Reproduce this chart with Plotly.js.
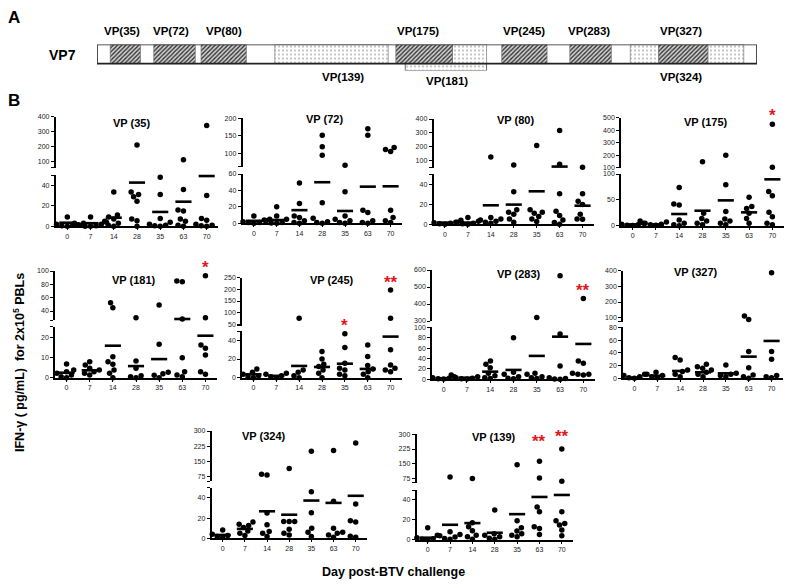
<!DOCTYPE html>
<html><head><meta charset="utf-8">
<script src="https://cdn.plot.ly/plotly-3.0.1.min.js"></script>
<style>html,body{margin:0;padding:0;background:#fff}#chart{width:785px;height:585px}</style>
</head><body><div id="chart"></div>
<script>
// ---------- DATA ----------
const days = ['0','7','14','28','35','63','70'];

// Panel A: VP7 map (residue units, VP7 = 349 aa)
const vp7Length = 349;
const hatchStart = [7, 30, 55, 158, 214, 250, 297];
const hatchEnd   = [23, 52, 79, 188, 238, 272, 323];
const dotStart = [94, 188, 282, 323];
const dotEnd   = [154, 206, 297, 342];
const vp181Under = [163, 206];
const pepNames = ['VP(35)','VP(72)','VP(80)','VP(175)','VP(245)','VP(283)','VP(327)','VP(139)','VP(181)','VP(324)'];
const pepLabelPos = [13, 39, 67, 170, 226, 260, 309, 130, 185, 309];
const pepLabelRow = ['top','top','top','top','top','top','top','bottom','bottom2','bottom'];

// Panel B: IFN-gamma values per day group (0,7,14,28,35,63,70)
const vp35Values = [[9,4.5,3,2,1.5,1,0.5,0],[9,4,3,2,1,0.5,0,0],[33.5,11,9,7,5,3,1,0],[210,33.5,31,28.7,24.5,7,5.5,0],[47.7,31,7.7,4,2,1,0.5,0],[111,35.8,15.8,15,7,5,1,0],[340,30,7.7,6,2,1,0.5,0]];
const vp35Means = [3.5,3,8.4,42.6,14,24,49];
const vp72Values = [[9,5,4,2,1,1,0],[20,9,5,3,1,0.5,0],[49,24,9,7,3,1,0],[152,119,95,25,6,2,1,0],[66,38.5,9,5,3,1,0],[170,152,16,13,3,1,0],[117,111,105,16,7,3,1]];
const vp72Means = [3,4,16,50,15,44.6,45];
const vp80Values = [[4,3.4,2,1.5,1,0.5,0],[6.8,3,2,1,0.5,0],[128,6.8,5.4,4.4,3,2,1],[71,32.5,14.6,12,10,5.4,2],[210,14.6,12,11,7.8,5.4,2.7],[317,76,30.5,13,8.8,4.4,1.7,0],[55,30.5,23,19.7,10,5.4,5]];
const vp80Means = [1.7,1.7,19,19.7,33,60,18.6];
const vp175Values = [[6,4.5,3,2,1,0.5],[9,7,4.5,3,2,1],[74,42,40,11,4.5,2,0],[147,24,14,9,4.5,2],[200,79,27.7,13,9,4.5,2],[54.8,37,33.5,24,14,4.5],[447,103,66,58,25.8,17.4,4.5,2]];
const vp175Means = [2.5,2.6,22.6,29,49,25.8,89.7];
const vp181Values = [[6.8,3.8,3,2.2,1.3,0.5,0],[8,6.3,4.7,3.8,3,2.2,1.3],[52.5,45,10.5,8,6.7,3.8,2.2,0],[30,8.3,4.7,1,0.5,0],[49,16.7,2.7,2,1.2,0],[85,84,28,10,3,1.3,0.5],[93,30,16.3,14.7,11.3,3,1.7]];
const vp181Means = [2.5,3.7,16,5.8,9.3,28,21];
const vp245Values = [[9.4,5.8,3.6,2,1,0],[4.7,3.6,2,1,0],[75.7,8.3,5.8,2,0],[28,20,14.4,12,8.3,4.7,0],[47,32.4,15.5,10,8.3,3.6,2],[35,22.7,13,9.4,6.5,3.6,0],[197,75.7,30,13.7,10,8.3,6.5]];
const vp245Means = [3.6,2,12.6,11.5,15,9.4,44];
const vp283Values = [[7,5,3,2,1,0.5],[8.3,5,3,2,1,0.5],[35,29,22.4,11.5,7,3,1.5],[80,13.5,9.6,5,2,1],[320,11.5,9.6,5,3,1.5],[566,87,25.6,3,1.5,0.5,0],[433,35,30.8,11.5,9.6,9.6,8.3]];
const vp283Means = [2,3,14.7,18,45,82,68];
const vp327Values = [[6.3,4.2,2.6,1,0],[9.4,6.3,4.2,2.6,1],[32.5,28.8,13,10.5,6.3,2.6],[22,18.3,15.7,13,9.4,6.3,2.6],[21,7.8,6.3,4.2,2.6],[111,89,42,16.7,5.2,2.6,0],[387,42,30,4.2,2.6,1]];
const vp327Means = [1,4,11.5,9.4,7.8,34,58.6];
const vp324Values = [[8.3,4,2.7,1.7,0.7],[16,14,12.7,10.7,7.3,5,2.7],[88,85,25,13.3,6.7,5,1.7],[117,16.7,16.7,16.7,9,5,3.3],[201,46,25.3,10,6,1.7],[205,36.7,10,6,5,3.3,1],[241,34,17.3,16,2,1]];
const vp324Means = [3.3,9.3,26.7,23.3,37.3,35,42];
const vp139Values = [[12,4.5,2,1,0.5,0],[82,8,5.3,4,2.7,1.3,0.5],[75,17,13,9,4.5,3,0.5],[30,6,4.5,3,1.5,0.5],[145,19,12,8.7,6,4.5,3],[162,77,33,28,13,11.3,5.3],[225,60,28,19,16.3,14.7,9.7,4]];
const vp139Means = [2,15,16.7,7,25.7,43,45];

// axis tick labels [upper, lower]
const vp35Ticks = [[100,200,300,400],[0,20,40]];
const vp72Ticks = [[100,150,200],[0,20,40,60]];
const vp80Ticks = [[100,200,300,400],[0,20,40]];
const vp175Ticks = [[100,200,300,400,500],[0,50,100]];
const vp181Ticks = [[40,60,80,100],[0,10,20]];
const vp245Ticks = [[50,100,150,200,250],[0,20,40]];
const vp283Ticks = [[300,400,500,600],[0,20,40,60,80,100]];
const vp327Ticks = [[100,200,300,400],[0,20,40,60,80]];
const vp324Ticks = [[75,150,225,300],[0,20,40]];
const vp139Ticks = [[75,150,225,300],[0,20,40]];

// significance marks (panel index, day index, text)
const starPanel = [3, 4, 5, 5, 6, 9, 9];
const starDay   = [6, 6, 4, 6, 6, 5, 6];
const starText  = ['*','*','*','**','**','**','**'];

// ---------- LAYOUT GEOMETRY (pixels) ----------
const panels = [
 {name:'VP (35)', vals:vp35Values, means:vp35Means, ticks:vp35Ticks, xL:55.7, xR:218.3, up:{top:116.7,bot:167.7,hi:400,lo:57}, low:{top:175,bot:226.3,hi:50}, tx:131.7, ty:123.3},
 {name:'VP (72)', vals:vp72Values, means:vp72Means, ticks:vp72Ticks, xL:242.5, xR:402, up:{top:118.3,bot:166.7,hi:200,lo:62}, low:{top:174,bot:223.3,hi:60}, tx:324, ty:119},
 {name:'VP (80)', vals:vp80Values, means:vp80Means, ticks:vp80Ticks, xL:433.5, xR:594, up:{top:119,bot:167.7,hi:400,lo:52}, low:{top:174.3,bot:224.3,hi:50}, tx:515.5, ty:120},
 {name:'VP (175)', vals:vp175Values, means:vp175Means, ticks:vp175Ticks, xL:621, xR:784, up:{top:117.7,bot:167.7,hi:500,lo:100}, low:{top:174,bot:225.7,hi:100}, tx:706, ty:121.7},
 {name:'VP (181)', vals:vp181Values, means:vp181Means, ticks:vp181Ticks, xL:55, xR:217, up:{top:271,bot:320,hi:100,lo:26.5}, low:{top:326.7,bot:377.7,hi:25.5}, tx:134, ty:280},
 {name:'VP (245)', vals:vp245Values, means:vp245Means, ticks:vp245Ticks, xL:242, xR:402, up:{top:277.7,bot:325.7,hi:250,lo:44}, low:{top:331,bot:377.7,hi:50}, tx:331.5, ty:280},
 {name:'VP (283)', vals:vp283Values, means:vp283Means, ticks:vp283Ticks, xL:432, xR:595, up:{top:270,bot:321,hi:600,lo:300}, low:{top:327.3,bot:379.3,hi:100}, tx:519, ty:274},
 {name:'VP (327)', vals:vp327Values, means:vp327Means, ticks:vp327Ticks, xL:623, xR:783, up:{top:270.7,bot:321.7,hi:400,lo:74.5}, low:{top:327.3,bot:378.3,hi:80}, tx:696, ty:271.7},
 {name:'VP (324)', vals:vp324Values, means:vp324Means, ticks:vp324Ticks, xL:211.6, xR:366.8, up:{top:431,bot:481,hi:300,lo:55.4}, low:{top:487.7,bot:538.3,hi:50}, tx:264, ty:435.7},
 {name:'VP (139)', vals:vp139Values, means:vp139Means, ticks:vp139Ticks, xL:416.5, xR:573, up:{top:434.3,bot:482.7,hi:300,lo:53}, low:{top:490,bot:539.7,hi:50}, tx:494, ty:436.7}
];
const starLift = [13, 12, 12, 12, 12, 24, 16];

const F = 'Liberation Sans, Arial, Helvetica, sans-serif';
const W = 785, H = 585;
const PX = p => p / W, PY = p => 1 - p / H;
const DOT = 5.5;

function swarm(pys, D) {
  const idx = pys.map((p, i) => i).sort((a, b) => pys[b] - pys[a]);
  const placed = []; const off = new Array(pys.length).fill(0);
  for (const i of idx) {
    const y = pys[i]; const ivs = [];
    for (const p of placed) {
      const dy = Math.abs(p.y - y);
      if (dy < D) { const w = Math.sqrt(D * D - dy * dy); ivs.push([p.x - w, p.x + w]); }
    }
    const c = [0]; ivs.forEach(v => c.push(v[0], v[1]));
    c.sort((a, b) => Math.abs(a) - Math.abs(b) || a - b);
    let x = 0;
    for (const cc of c) { if (ivs.every(v => cc <= v[0] + 1e-6 || cc >= v[1] - 1e-6)) { x = cc; break; } }
    off[i] = x; placed.push({x, y});
  }
  return off;
}

const traces = [];
const layout = {
  width: W, height: H, margin: {l:0, r:0, t:0, b:0}, showlegend: false,
  paper_bgcolor: '#fff', plot_bgcolor: 'rgba(0,0,0,0)', barmode: 'overlay', hovermode: false,
  font: {family: F, color: '#000'}, annotations: []
};
function ann(text, x, y, size, extra) {
  return Object.assign({xref:'paper', yref:'paper', x: PX(x), y: PY(y), text, showarrow:false,
    xanchor:'center', yanchor:'middle', font:{family:F, size, color:'#000', weight:'bold'}}, extra || {});
}

// ---------- PANEL A ----------
layout.xaxis = {domain:[97/W, 757/W], range:[0, vp7Length], visible:false, fixedrange:true};
layout.yaxis = {domain:[PY(70.5), PY(44.5)], range:[-0.86, 0.5], visible:false, fixedrange:true};
const dotPattern = () => ({shape:'.', fgcolor:'#777', bgcolor:'#fff', size:4, solidity:0.12});
const hatchPattern = {shape:'/', fgcolor:'#2a2a2a', bgcolor:'#cfcfcf', size:3, solidity:0.42};
traces.push({type:'bar', orientation:'h', xaxis:'x', yaxis:'y', base:[vp181Under[0]], x:[vp181Under[1]-vp181Under[0]], y:[-0.68], width:0.36,
  marker:{color:'#fff', pattern:dotPattern(), line:{color:'#444', width:0.8}}});
traces.push({type:'bar', orientation:'h', xaxis:'x', yaxis:'y', base:dotStart, x:dotEnd.map((e,i)=>e-dotStart[i]), y:dotStart.map(()=>0), width:1,
  marker:{color:'#fff', pattern:dotPattern(), line:{color:'#666', width:0.6}}});
traces.push({type:'bar', orientation:'h', xaxis:'x', yaxis:'y', base:hatchStart, x:hatchEnd.map((e,i)=>e-hatchStart[i]), y:hatchStart.map(()=>0), width:1,
  marker:{color:'#bbb', pattern:hatchPattern, line:{color:'#666', width:0.6}}});
traces.push({type:'bar', orientation:'h', xaxis:'x', yaxis:'y', base:[0], x:[vp7Length], y:[0], width:1,
  marker:{color:'rgba(0,0,0,0)', line:{color:'#222', width:1.6}}});
layout.annotations.push(ann('A', 14, 17, 17));
layout.annotations.push(ann('VP7', 62, 55, 14));
const rowY = {top:31, bottom:77, bottom2:81};
pepNames.forEach((n, i) => {
  layout.annotations.push({xref:'x', yref:'paper', x:pepLabelPos[i], y:PY(rowY[pepLabelRow[i]]), text:n, showarrow:false,
    xanchor:'center', yanchor:'middle', font:{family:F, size:11.5, color:'#000', weight:'bold'}});
});

// ---------- PANEL B ----------
layout.annotations.push(ann('B', 14, 100, 17));
const tickFont = () => ({family:F, size:7, color:'#1a1a1a'});
panels.forEach((P, i) => {
  const xn = i + 2, yl = 2 * i + 2, yu = 2 * i + 3;
  const xa = 'x' + xn, yla = 'y' + yl, yua = 'y' + yu;
  const spacing = (P.xR - P.xL) / 7;
  layout['xaxis' + xn] = {domain:[P.xL / W, P.xR / W], range:[-0.5, 6.5], anchor:yla,
    tickmode:'array', tickvals:[0,1,2,3,4,5,6], ticktext:days, ticks:'outside', ticklen:2, tickwidth:1, tickcolor:'#000',
    showline:true, linewidth:2, linecolor:'#000', showgrid:false, zeroline:false, tickfont:tickFont(), color:'#000', fixedrange:true};
  const upT = P.ticks[0], loT = P.ticks[1];
  const loVals = loT.slice(), loTxt = loT.map(String);
  if (!loVals.includes(P.low.hi)) { loVals.push(P.low.hi); loTxt.push(' '); }
  const upVals = upT.slice(), upTxt = upT.map(String);
  if (!upVals.includes(P.up.lo)) { upVals.unshift(P.up.lo); upTxt.unshift(' '); }
  const yCommon = () => ({anchor:xa, ticks:'outside', ticklen:3, tickwidth:1, tickcolor:'#000', showline:true, linewidth:1.8,
    linecolor:'#000', showgrid:false, zeroline:false, tickfont:tickFont(), color:'#000', fixedrange:true, tickmode:'array'});
  layout['yaxis' + yl] = Object.assign({domain:[PY(P.low.bot), PY(P.low.top)], range:[0, P.low.hi], tickvals:loVals, ticktext:loTxt}, yCommon());
  layout['yaxis' + yu] = Object.assign({domain:[PY(P.up.bot), PY(P.up.top)], range:[P.up.lo, P.up.hi], tickvals:upVals, ticktext:upTxt}, yCommon());

  const yPix = v => v > P.low.hi
    ? P.up.bot - (v - P.up.lo) * (P.up.bot - P.up.top) / (P.up.hi - P.up.lo)
    : P.low.bot - v * (P.low.bot - P.low.top) / P.low.hi;
  const lx = [], ly = [], ux = [], uy = [];
  P.vals.forEach((g, gi) => {
    const off = swarm(g.map(yPix), DOT);
    g.forEach((v, k) => {
      const x = gi + off[k] / spacing;
      if (v > P.low.hi) { ux.push(x); uy.push(v); } else { lx.push(x); ly.push(v); }
    });
  });
  const dotM = () => ({size:DOT, color:'#000', line:{width:0}});
  traces.push({type:'scatter', mode:'markers', x:lx, y:ly, xaxis:xa, yaxis:yla, marker:dotM(), cliponaxis:false});
  traces.push({type:'scatter', mode:'markers', x:ux, y:uy, xaxis:xa, yaxis:yua, marker:dotM(), cliponaxis:false});
  const mlx = [], mly = [], mux = [], muy = [];
  P.means.forEach((m, gi) => { if (m > P.low.hi) { mux.push(gi); muy.push(m); } else { mlx.push(gi); mly.push(m); } });
  const meanM = () => ({symbol:'line-ew', size:11.5, color:'#000', line:{width:2.6, color:'#000'}});
  traces.push({type:'scatter', mode:'markers', x:mlx, y:mly, xaxis:xa, yaxis:yla, marker:meanM(), cliponaxis:false});
  traces.push({type:'scatter', mode:'markers', x:mux, y:muy, xaxis:xa, yaxis:yua, marker:meanM(), cliponaxis:false});
  layout.annotations.push(ann(P.name, P.tx, P.ty, 11));
  P.yPix = yPix;
});

starPanel.forEach((pi, k) => {
  const P = panels[pi];
  const mx = Math.max.apply(null, P.vals[starDay[k]]);
  const py = P.yPix(mx) - starLift[k];
  layout.annotations.push({xref:'x' + (pi + 2), yref:'paper', x:starDay[k], y:PY(py + 4), text:starText[k], showarrow:false,
    xanchor:'center', yanchor:'middle', font:{family:F, size:17, color:'#e3161c', weight:'bold'}});
});

layout.annotations.push(ann('IFN-γ ( pg/mL)  for 2x10<sup>5</sup> PBLs', 19, 363, 12.5, {textangle:-90}));
layout.annotations.push(ann('Day post-BTV challenge', 393, 572, 12.5));

Plotly.newPlot('chart', traces, layout, {staticPlot:true, displayModeBar:false});
</script>
</body></html>
